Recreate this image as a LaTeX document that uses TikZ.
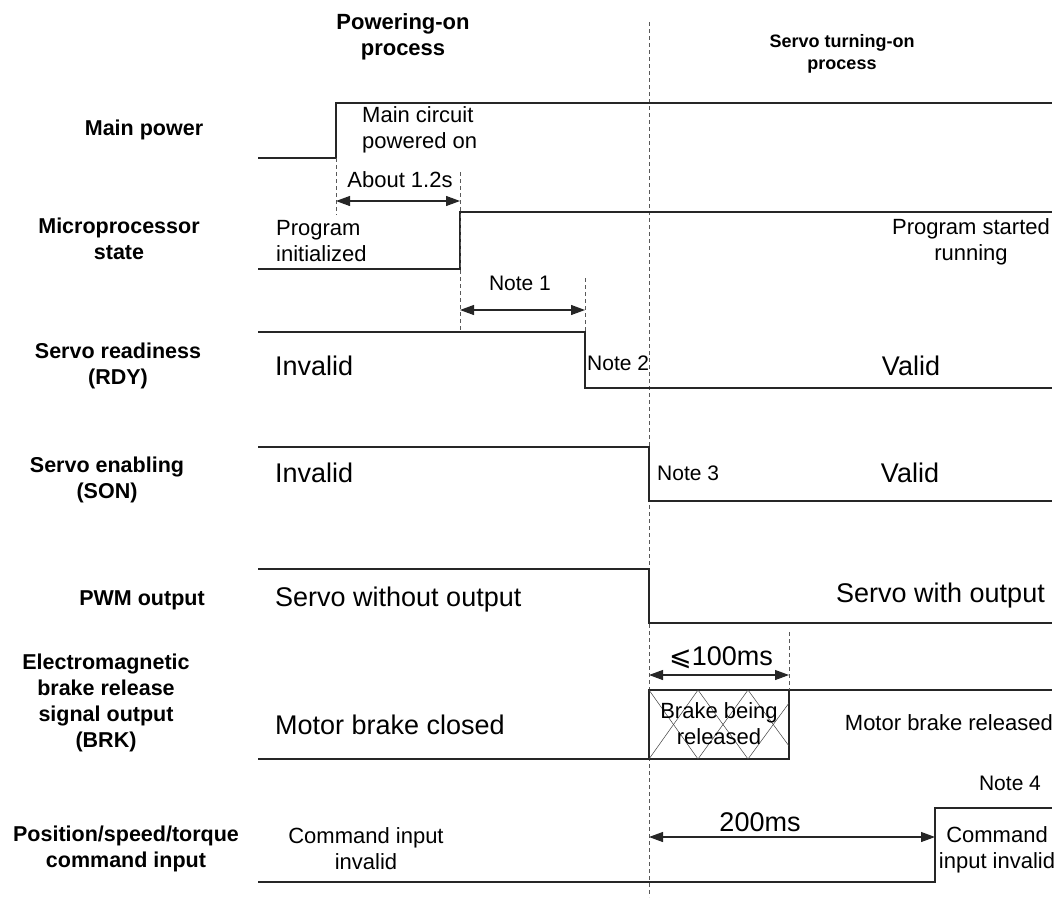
\documentclass[tikz,border=0pt]{standalone}
\usepackage{fontspec}
\setmainfont{Liberation Sans}
\newfontfamily\dejavu{DejaVu Sans}
\usetikzlibrary{arrows.meta}
\begin{document}
\begin{tikzpicture}[x=1pt,y=-1pt,
  wave/.style={draw=black!85, line width=1.1pt},
  hatch/.style={draw=black!75, line width=0.5pt},
  guide/.style={draw=black!65, line width=0.9pt, dash pattern=on 4pt off 3pt},
  dim/.style={draw=black!85, line width=1.1pt, {Triangle[length=14pt,width=10pt]}-{Triangle[length=14pt,width=10pt]}},
  hdr/.style={font=\fontsize{22}{26}\selectfont\bfseries, align=center, inner sep=0pt},
  hdrs/.style={font=\fontsize{18}{22}\selectfont\bfseries, align=center, inner sep=0pt},
  lbl/.style={font=\fontsize{21.5}{26}\selectfont\bfseries, align=center, inner sep=0pt},
  big/.style={font=\fontsize{27}{32}\selectfont, inner sep=0pt},
  small/.style={font=\fontsize{22}{26}\selectfont, inner sep=0pt},
  note/.style={font=\fontsize{21}{25}\selectfont, inner sep=0pt}]
\useasboundingbox (0,0) rectangle (1059,897);

% headers
\node[hdr] (h1) at (403,37) {Powering-on\\process};
\node[hdrs] (h2) at (842,54) {Servo turning-on\\process};

% left labels
\node[lbl] (l1) at (144,130) {Main power};
\node[lbl] (l2) at (119,239) {Microprocessor\\state};
\node[lbl] (l3) at (118,366) {Servo readiness\\(RDY)};
\node[lbl] (l4) at (107,480) {Servo enabling\\(SON)};
\node[lbl] (l5) at (142,600) {PWM output};
\node[lbl] (l6) at (106,703) {Electromagnetic\\brake release\\signal output\\(BRK)};
\node[lbl] (l7) at (126,849) {Position/speed/torque\\command input};

% main phase divider
\coordinate (dtop) at (649,22);
\coordinate (dbot) at (649,897);
\draw[guide] (dtop) -- (dbot);

% waveforms
\draw[wave] (258,158) -- (336,158) -- (336,103) -- (1052,103);
\draw[wave] (258,269) -- (460,269) -- (460,212) -- (1052,212);
\draw[wave] (258,332) -- (585,332) -- (585,388) -- (1052,388);
\draw[wave] (258,447) -- (649,447) -- (649,501) -- (1052,501);
\draw[wave] (258,569) -- (649,569) -- (649,623) -- (1052,623);
\draw[wave] (258,759) -- (789,759) -- (789,690);
\draw[wave] (649,759) -- (649,690) -- (1052,690);
\draw[wave] (258,882) -- (935,882) -- (935,808) -- (1052,808);

% brake hatching
\draw[hatch] (649,759) -- (698,690) -- (748,759) -- (789,703);
\draw[hatch] (649,690) -- (698,759) -- (748,690) -- (789,746);

% dashed guides
\coordinate (g1a) at (336,158); \coordinate (g1b) at (336,215);
\coordinate (g2a) at (460,172); \coordinate (g2b) at (460,330);
\coordinate (g3a) at (585,278); \coordinate (g3b) at (585,332);
\coordinate (g4a) at (789,632); \coordinate (g4b) at (789,690);
\draw[guide] (g1a) -- (g1b);
\draw[guide] (g2a) -- (g2b);
\draw[guide] (g3a) -- (g3b);
\draw[guide] (g4a) -- (g4b);

% dimension arrows
\coordinate (a1l) at (336,201); \coordinate (a1r) at (460,201);
\coordinate (a2l) at (460,310); \coordinate (a2r) at (585,310);
\coordinate (a3l) at (649,675); \coordinate (a3r) at (789,675);
\coordinate (a4l) at (649,837); \coordinate (a4r) at (935,837);
\draw[dim] (a1l) -- (a1r);
\draw[dim] (a2l) -- (a2r);
\draw[dim] (a3l) -- (a3r);
\draw[dim] (a4l) -- (a4r);
\node[small] (t1) at (400,180) {About 1.2s};
\node[note] (t2) at (520,283) {Note 1};
\node[big] (t3) at (721,658) {{\dejavu ⩽}100ms};
\node[big] (t4) at (760,822) {200ms};

% signal texts
\node[small, anchor=west, align=left] (m1) at (362,130) {Main circuit\\powered on};
\node[small, anchor=west, align=left] (m2) at (276,241) {Program\\initialized};
\node[small, align=center] (m3) at (971,242) {Program started\\running};
\node[big, anchor=west] (r1) at (275,366) {Invalid};
\node[note, anchor=west] (r2) at (587,363) {Note 2};
\node[big] (r3) at (911,366) {Valid};
\node[big, anchor=west] (s1) at (275,473) {Invalid};
\node[note, anchor=west] (s2) at (657,473) {Note 3};
\node[big] (s3) at (910,473) {Valid};
\node[big, anchor=west] (p1) at (275,600) {Servo without output};
\node[big, anchor=east] (p2) at (1045,596) {Servo with output};
\node[small, align=center] (b1) at (719,724) {Brake being\\released};
\node[big, anchor=west] (b2) at (275,725) {Motor brake closed};
\node[small, anchor=east] (b3) at (1053,723) {Motor brake released};
\node[note] (c0) at (1010,783) {Note 4};
\node[small, align=center] (c1) at (366,849) {Command input\\invalid};
\node[small, align=center] (c2) at (997,850) {Command\\input invalid};
\end{tikzpicture}
\end{document}
